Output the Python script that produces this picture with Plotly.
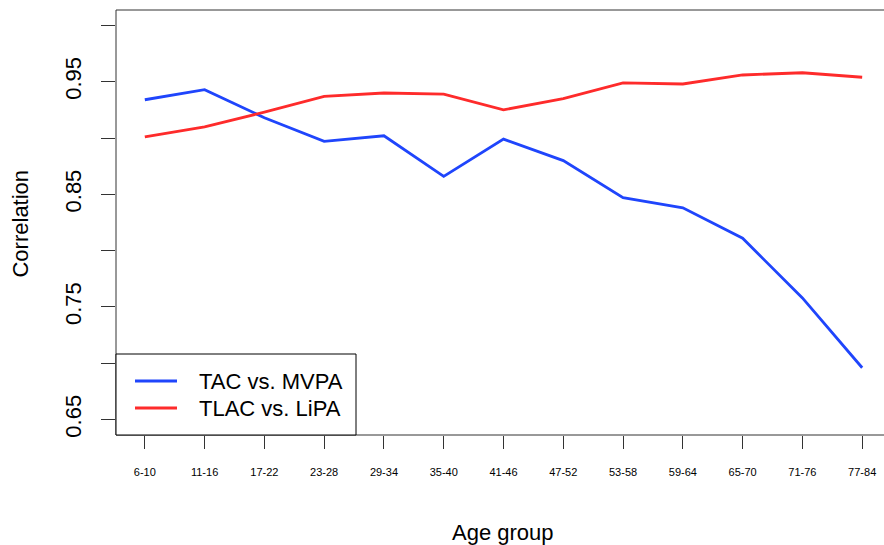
import plotly.graph_objects as go

# Age groups on the x axis
age_groups = ["6-10", "11-16", "17-22", "23-28", "29-34", "35-40", "41-46",
              "47-52", "53-58", "59-64", "65-70", "71-76", "77-84"]

# Correlation per age group
tac_mvpa = [0.934, 0.943, 0.918, 0.897, 0.902, 0.866, 0.899,
            0.880, 0.847, 0.838, 0.811, 0.758, 0.696]
tlac_lipa = [0.901, 0.910, 0.923, 0.937, 0.940, 0.939, 0.925,
             0.935, 0.949, 0.948, 0.956, 0.958, 0.954]

series_names = ["TAC vs. MVPA", "TLAC vs. LiPA"]
series_colors = ["#1f45fc", "#fe2b2b"]

# Y ticks every 0.05, labels every 0.1
y_tickvals = [0.65, 0.70, 0.75, 0.80, 0.85, 0.90, 0.95, 1.00]
y_ticktext = ["0.65", "", "0.75", "", "0.85", "", "0.95", ""]

FONT = "Liberation Sans, Arial, Helvetica, sans-serif"
AXIS_COL = "#333333"

W, H = 884, 545
ML, MT, MB = 116, 10, 110
PW, PH = W - ML, H - MT - MB


def px_x(px):
    """Pixel offset from the plot's left edge -> paper fraction."""
    return px / PW


def px_y(px):
    """Pixel offset above the plot's bottom edge -> paper fraction."""
    return px / PH


fig = go.Figure()
for vals, name, col in zip([tac_mvpa, tlac_lipa], series_names, series_colors):
    fig.add_trace(go.Scatter(x=age_groups, y=vals, mode="lines", name=name,
                             line=dict(color=col, width=2.8),
                             showlegend=False))

# Open frame: left, bottom and top edges (the right edge runs off the page)
frame = dict(type="line", xref="paper", yref="paper",
             line=dict(color=AXIS_COL, width=1))
shapes = [
    dict(frame, x0=0, x1=0, y0=0, y1=1),
    dict(frame, x0=0, x1=1, y0=0, y1=0),
    dict(frame, x0=0, x1=1, y0=1, y1=1),
]

# Boxed legend in the lower-left corner
shapes.append(dict(type="rect", xref="paper", yref="paper",
                   x0=0, x1=px_x(240), y0=0, y1=px_y(81),
                   line=dict(color="black", width=1), fillcolor="white",
                   layer="above"))
annotations = []
for i, (name, col) in enumerate(zip(series_names, series_colors)):
    yy = px_y(54 - 27 * i)
    shapes.append(dict(type="line", xref="paper", yref="paper",
                       x0=px_x(19), x1=px_x(61), y0=yy, y1=yy,
                       line=dict(color=col, width=3), layer="above"))
    annotations.append(dict(text=name, xref="paper", yref="paper",
                            x=px_x(81), y=yy, xanchor="left", yanchor="middle",
                            showarrow=False, font=dict(size=22, family=FONT)))

annotations += [
    dict(text="Age group", xref="paper", yref="paper", x=0.504, y=0,
         yshift=-97, showarrow=False, xanchor="center", yanchor="middle",
         font=dict(size=22, family=FONT)),
    dict(text="Correlation", xref="paper", yref="paper", x=0, y=0.4976,
         xshift=-95, showarrow=False, xanchor="center", yanchor="middle",
         textangle=-90, font=dict(size=22, family=FONT)),
]

fig.update_layout(
    width=W, height=H,
    margin=dict(l=ML, r=0, t=MT, b=MB),
    paper_bgcolor="white", plot_bgcolor="white",
    font=dict(family=FONT, color="black"),
    showlegend=False,
    xaxis=dict(type="category", range=[-0.482, 12.365],
               showgrid=False, zeroline=False, showline=False,
               ticks="outside", ticklen=13, tickcolor=AXIS_COL, tickwidth=1,
               tickfont=dict(size=11, family=FONT),
               ticklabelstandoff=14),
    yaxis=dict(range=[0.6363, 1.0137], showgrid=False, zeroline=False,
               showline=False,
               ticks="outside", ticklen=14, tickcolor=AXIS_COL, tickwidth=1,
               tickvals=y_tickvals, ticktext=y_ticktext, tickangle=-90,
               tickfont=dict(size=22, family=FONT), ticklabelstandoff=11),
    shapes=shapes,
    annotations=annotations,
)

fig.write_html("out.html")
